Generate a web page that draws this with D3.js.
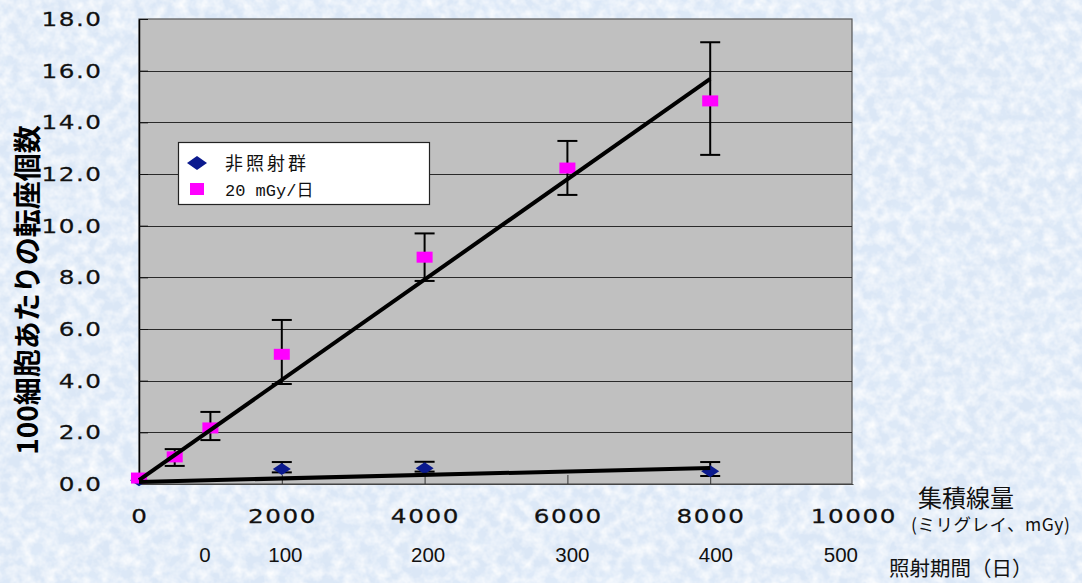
<!DOCTYPE html>
<html>
<head>
<meta charset="utf-8">
<script src="https://cdn.jsdelivr.net/npm/d3@7"></script>
<style>
  html, body { margin: 0; padding: 0; background: #dce8f6; }
  svg { display: block; }
</style>
</head>
<body>
<svg id="chart" width="1082" height="583"></svg>
<script>
// ---- data ----
const doseTicks = [0, 2000, 4000, 6000, 8000, 10000];
const doseTickLabels = ["0", "2000", "4000", "6000", "8000", "10000"];
const dayLabels = ["0", "100", "200", "300", "400", "500"];
const dayLabelDose = [925, 2050, 4050, 6070, 8080, 9830];
const yTicks = [0, 2, 4, 6, 8, 10, 12, 14, 16, 18];

const seriesNames = ["非照射群", "20 mGy/日"];

// control group (非照射群)
const ctrlDose = [0, 2000, 4000, 8000];
const ctrlValue = [0.15, 0.58, 0.61, 0.49];
const ctrlLow = [0.15, 0.45, 0.48, 0.31];
const ctrlHigh = [0.15, 0.85, 0.86, 0.85];
const ctrlTrend = [[0, 0.08], [8000, 0.62]];

// 20 mGy/day group
const irrDose = [0, 500, 1000, 2000, 4000, 6000, 8000];
const irrValue = [0.23, 1.05, 2.17, 5.02, 8.78, 12.23, 14.83];
const irrLow = [0.23, 0.70, 1.70, 3.87, 7.86, 11.19, 12.74];
const irrHigh = [0.23, 1.35, 2.79, 6.35, 9.70, 13.28, 17.10];
const irrTrend = [[0, 0.15], [8000, 15.68]];

// ---- layout ----
const svg = d3.select("#chart");
const W = 1082, H = 583;
const plot = { left: 139, right: 853, top: 19, bottom: 484 };

const x = d3.scaleLinear().domain([0, 10000]).range([plot.left, plot.right]);
const y = d3.scaleLinear().domain([0, 18]).range([plot.bottom, plot.top]);

// ---- textured pale blue background ----
const defs = svg.append("defs");
const f1 = defs.append("filter").attr("id", "paper")
  .attr("x", 0).attr("y", 0).attr("width", "100%").attr("height", "100%");
f1.append("feTurbulence").attr("type", "fractalNoise")
  .attr("baseFrequency", "0.09").attr("numOctaves", 3).attr("seed", 7).attr("result", "n");
f1.append("feColorMatrix").attr("in", "n").attr("type", "matrix")
  .attr("values", "0 0 0 0 1  0 0 0 0 1  0 0 0 0 1  1.6 0 0 0 -0.52");
const f2 = defs.append("filter").attr("id", "paper2")
  .attr("x", 0).attr("y", 0).attr("width", "100%").attr("height", "100%");
f2.append("feTurbulence").attr("type", "fractalNoise")
  .attr("baseFrequency", "0.03").attr("numOctaves", 3).attr("seed", 3).attr("result", "n");
f2.append("feColorMatrix").attr("in", "n").attr("type", "matrix")
  .attr("values", "0 0 0 0 0.76  0 0 0 0 0.85  0 0 0 0 0.96  0 1.1 0 0 -0.45");

svg.append("rect").attr("width", W).attr("height", H).attr("fill", "#dbe7f6");
svg.append("rect").attr("width", W).attr("height", H).attr("filter", "url(#paper2)");
svg.append("rect").attr("width", W).attr("height", H).attr("filter", "url(#paper)");

// ---- plot area ----
svg.append("rect")
  .attr("x", plot.left).attr("y", plot.top)
  .attr("width", plot.right - plot.left - 1).attr("height", plot.bottom - plot.top)
  .attr("fill", "#c0c0c0").attr("stroke", "#555").attr("stroke-width", 1.2);

// horizontal gridlines
svg.append("g").selectAll("line")
  .data(yTicks.filter(t => t > 0 && t < 18))
  .join("line")
  .attr("x1", plot.left).attr("x2", plot.right - 1)
  .attr("y1", d => Math.round(y(d)) + 0.5).attr("y2", d => Math.round(y(d)) + 0.5)
  .attr("stroke", "#2a2a2a").attr("stroke-width", 1);

// y axis line and inward ticks
const yAxis = svg.append("g").attr("transform", `translate(${plot.left},0)`)
  .call(d3.axisLeft(y).tickValues(yTicks).tickFormat("")
    .tickSizeInner(-9).tickSizeOuter(0));
yAxis.select(".domain").attr("stroke", "#000").attr("stroke-width", 1.5);
yAxis.selectAll(".tick line").attr("stroke", "#111");

// x axis line and inward ticks
const xAxis = svg.append("g").attr("transform", `translate(0,${plot.bottom})`)
  .call(d3.axisBottom(x).tickValues(doseTicks).tickFormat("")
    .tickSizeInner(-9).tickSizeOuter(0));
xAxis.select(".domain").attr("stroke", "#444").attr("stroke-width", 1.2);
xAxis.selectAll(".tick line").attr("stroke", "#333");
xAxis.selectAll(".tick").filter(d => d === 0 || d === 10000).select("line").remove();

// wide tick labels
const tickFont = "'DejaVu Sans', sans-serif";
const fmt = d3.format(".1f");
svg.append("g").selectAll("text").data(yTicks).join("text")
  .attr("transform", d => `translate(101,${y(d) + 7}) scale(1.3,1)`)
  .attr("text-anchor", "end").attr("letter-spacing", 1.2).attr("dx", 1.2)
  .attr("font-family", tickFont).attr("font-size", 19).attr("fill", "#111")
  .attr("stroke", "#111").attr("stroke-width", 0.25)
  .text(d => fmt(d));
svg.append("g").selectAll("text").data(doseTicks).join("text")
  .attr("transform", d => `translate(${x(d)},523) scale(1.3,1)`)
  .attr("text-anchor", "middle").attr("letter-spacing", 1.2).attr("dx", 0.6)
  .attr("font-family", tickFont).attr("font-size", 19).attr("fill", "#111")
  .attr("stroke", "#111").attr("stroke-width", 0.25)
  .text((d, i) => doseTickLabels[i]);

// second row: irradiation days
svg.append("g").selectAll("text")
  .data(dayLabels)
  .join("text")
  .attr("x", (d, i) => x(dayLabelDose[i]))
  .attr("y", 562)
  .attr("text-anchor", "middle")
  .attr("font-family", "'Liberation Sans', Arial, sans-serif")
  .attr("font-size", 20.5).attr("fill", "#111")
  .text(d => d);

// axis captions
const jp = "'Noto Sans CJK JP', sans-serif";
svg.append("text").attr("x", 918).attr("y", 507)
  .attr("font-family", jp).attr("font-size", 24).attr("fill", "#111").text("集積線量");
svg.append("text").attr("x", 911).attr("y", 531)
  .attr("font-family", jp).attr("font-size", 17.5).attr("letter-spacing", 0.5)
  .attr("fill", "#111").text("(ミリグレイ、mGy)");
svg.append("text").attr("x", 889).attr("y", 576)
  .attr("font-family", jp).attr("font-size", 20.5).attr("fill", "#111").text("照射期間（日）");

svg.append("text")
  .attr("transform", "translate(38,290) rotate(-90)")
  .attr("text-anchor", "middle")
  .attr("font-family", jp).attr("font-weight", "bold").attr("font-size", 28)
  .attr("fill", "#000")
  .text("100細胞あたりの転座個数");

// ---- series ----
const diamond = (cx, cy, w, h) =>
  `M${cx},${cy - h / 2}L${cx + w / 2},${cy}L${cx},${cy + h / 2}L${cx - w / 2},${cy}Z`;

function errorBars(g, dose, low, high) {
  const idx = d3.range(dose.length).filter(i => high[i] > low[i]);
  g.selectAll("line.v").data(idx).join("line").attr("class", "v")
    .attr("x1", i => x(dose[i])).attr("x2", i => x(dose[i]))
    .attr("y1", i => y(low[i])).attr("y2", i => y(high[i]))
    .attr("stroke", "#000").attr("stroke-width", 2);
  g.selectAll("line.cl").data(idx).join("line").attr("class", "cl")
    .attr("x1", i => x(dose[i]) - 10).attr("x2", i => x(dose[i]) + 10)
    .attr("y1", i => y(low[i])).attr("y2", i => y(low[i]))
    .attr("stroke", "#000").attr("stroke-width", 2);
  g.selectAll("line.ch").data(idx).join("line").attr("class", "ch")
    .attr("x1", i => x(dose[i]) - 10).attr("x2", i => x(dose[i]) + 10)
    .attr("y1", i => y(high[i])).attr("y2", i => y(high[i]))
    .attr("stroke", "#000").attr("stroke-width", 2);
}

const gCtrl = svg.append("g");
errorBars(gCtrl, ctrlDose, ctrlLow, ctrlHigh);
gCtrl.selectAll("path").data(ctrlValue).join("path")
  .attr("d", (v, i) => diamond(x(ctrlDose[i]), y(v), 18, 12))
  .attr("fill", "#0b1a8e");

const gIrr = svg.append("g");
errorBars(gIrr, irrDose, irrLow, irrHigh);
gIrr.selectAll("rect").data(irrValue).join("rect")
  .attr("x", (v, i) => x(irrDose[i]) - 8).attr("y", v => y(v) - 5.5)
  .attr("width", 16).attr("height", 11)
  .attr("fill", "#ff00ff");

// trend lines
const line = d3.line().x(d => x(d[0])).y(d => y(d[1]));
[ctrlTrend, irrTrend].forEach(t => {
  svg.append("path").attr("d", line(t))
    .attr("fill", "none").attr("stroke", "#000").attr("stroke-width", 4)
    .attr("stroke-linecap", "butt");
});

// ---- legend ----
const lg = svg.append("g");
lg.append("rect").attr("x", 178.5).attr("y", 142.5).attr("width", 251).attr("height", 62)
  .attr("fill", "#fff").attr("stroke", "#222").attr("stroke-width", 1.2);
lg.append("path").attr("d", diamond(197, 163, 20, 14)).attr("fill", "#0b1a8e");
lg.append("rect").attr("x", 190).attr("y", 183).attr("width", 14).attr("height", 12).attr("fill", "#ff00ff");
lg.append("text").attr("x", 225).attr("y", 170)
  .attr("font-family", jp).attr("font-size", 18).attr("letter-spacing", 3)
  .attr("fill", "#111").text(seriesNames[0]);
lg.append("text").attr("x", 225).attr("y", 196)
  .attr("font-family", "'Liberation Mono', 'Noto Sans CJK JP', monospace").attr("font-size", 17)
  .attr("fill", "#111").text(seriesNames[1]);
</script>
</body>
</html>
